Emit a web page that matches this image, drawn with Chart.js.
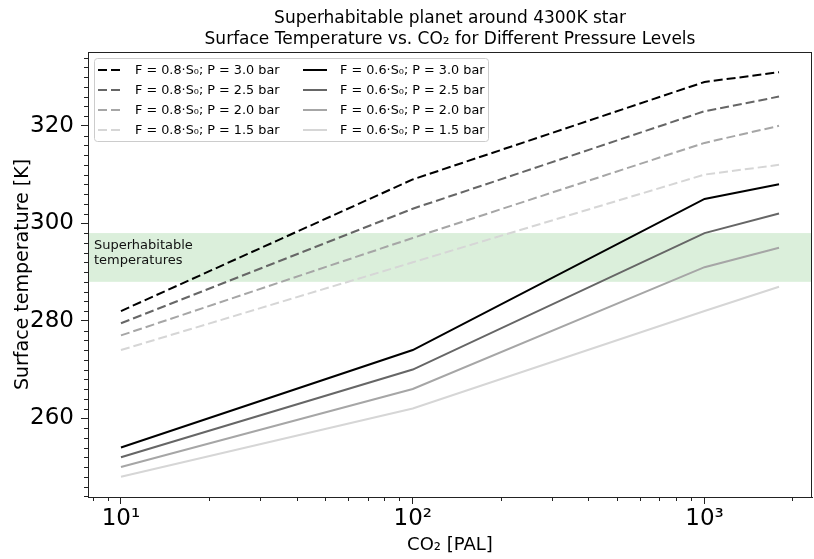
<!DOCTYPE html>
<html><head><meta charset="utf-8">
<script src="https://cdn.jsdelivr.net/npm/chart.js@4/dist/chart.umd.min.js"></script>
<style>html,body{margin:0;padding:0;background:#fff}#wrap{width:814px;height:559px}</style>
</head><body><div id="wrap"><canvas id="c" width="814" height="559"></canvas></div>
<script>
// ---- data ----
const co2 = [10, 100, 1000, 1800];
const f08_p30 = [282, 309, 329, 331];
const f08_p25 = [279.5, 303, 323, 326];
const f08_p20 = [277, 297, 316.5, 320];
const f08_p15 = [274, 292, 310, 312];
const f06_p30 = [254, 274, 305, 308];
const f06_p25 = [252, 270, 298, 302];
const f06_p20 = [250, 266, 291, 295];
const f06_p15 = [248, 262, 282, 287];
const seriesLabels = [
  'F = 0.8·S₀; P = 3.0 bar','F = 0.8·S₀; P = 2.5 bar','F = 0.8·S₀; P = 2.0 bar','F = 0.8·S₀; P = 1.5 bar',
  'F = 0.6·S₀; P = 3.0 bar','F = 0.6·S₀; P = 2.5 bar','F = 0.6·S₀; P = 2.0 bar','F = 0.6·S₀; P = 1.5 bar'
];
const xTickValues = [10, 100, 1000];
const xTickLabels = ['10¹', '10²', '10³'];
const yTickValues = [260, 280, 300, 320];
const bandRange = [288, 298];
const bandLabel = ['Superhabitable', 'temperatures'];
const titleLines = ['Superhabitable planet around 4300K star', 'Surface Temperature vs. CO₂ for Different Pressure Levels'];

// ---- styles ----
const greys = ['#000000', '#666666', '#a6a6a6', '#d6d6d6'];
const FONT = 'DejaVu Sans';
const allSeries = [f08_p30, f08_p25, f08_p20, f08_p15, f06_p30, f06_p25, f06_p20, f06_p15];
const datasets = allSeries.map((s, i) => ({
  label: seriesLabels[i],
  data: co2.map((x, k) => ({x: x, y: s[k]})),
  borderColor: greys[i % 4],
  backgroundColor: greys[i % 4],
  borderWidth: 2,
  borderDash: i < 4 ? [9, 4] : [],
  pointRadius: 0,
  tension: 0,
  fill: false
}));

const bandPlugin = {
  id: 'band',
  beforeDatasetsDraw(chart) {
    const {ctx, chartArea: a, scales: {y}} = chart;
    const y1 = y.getPixelForValue(bandRange[1]), y0 = y.getPixelForValue(bandRange[0]);
    ctx.save();
    ctx.fillStyle = 'rgba(44,160,44,0.17)';
    ctx.fillRect(a.left, y1, a.right - a.left, y0 - y1);
    ctx.fillStyle = '#111';
    ctx.font = '13px "' + FONT + '"';
    ctx.textBaseline = 'alphabetic';
    ctx.textAlign = 'left';
    ctx.fillText(bandLabel[0], a.left + 6, y1 + 16);
    ctx.fillText(bandLabel[1], a.left + 6, y1 + 30.5);
    ctx.restore();
  }
};

const framePlugin = {
  id: 'frame',
  afterDraw(chart) {
    const {ctx, chartArea: a, scales: {x, y}} = chart;
    ctx.save();
    ctx.strokeStyle = '#222';
    ctx.lineWidth = 1;
    // minor ticks y
    ctx.beginPath();
    for (let v = Math.ceil(y.min / 2) * 2; v <= y.max; v += 2) {
      if (v % 20 === 0) continue;
      const py = Math.round(y.getPixelForValue(v)) + 0.5;
      ctx.moveTo(a.left, py); ctx.lineTo(a.left - 4, py);
    }
    // minor ticks x
    for (let d = 1; d <= 1000; d *= 10) {
      for (let m = 2; m <= 9; m++) {
        const v = m * d;
        if (v < x.min || v > x.max) continue;
        const px = Math.round(x.getPixelForValue(v)) + 0.5;
        ctx.moveTo(px, a.bottom); ctx.lineTo(px, a.bottom + 4);
      }
    }
    ctx.stroke();
    // frame
    ctx.strokeRect(Math.round(a.left) + 0.5, Math.round(a.top) + 0.5, Math.round(a.right - a.left) - 1, Math.round(a.bottom - a.top));
    // title
    ctx.fillStyle = '#000';
    ctx.font = '17px "' + FONT + '"';
    ctx.textAlign = 'center';
    ctx.textBaseline = 'middle';
    const cx = (a.left + a.right) / 2;
    ctx.fillText(titleLines[0], cx, 19);
    ctx.fillText(titleLines[1], cx, 40);
    // legend
    const lx = a.left + 6, ly = a.top + 6, lw = 394, lh = 83;
    ctx.fillStyle = 'rgba(255,255,255,0.8)';
    ctx.strokeStyle = '#cccccc';
    ctx.beginPath();
    if (ctx.roundRect) ctx.roundRect(lx + 0.5, ly + 0.5, lw, lh, 3); else ctx.rect(lx + 0.5, ly + 0.5, lw, lh);
    ctx.fill(); ctx.stroke();
    ctx.font = '12.8px "' + FONT + '"';
    ctx.textAlign = 'left';
    ctx.textBaseline = 'middle';
    chart.data.datasets.forEach((ds, i) => {
      const col = Math.floor(i / 4), row = i % 4;
      const hx = lx + 4 + col * 205, hy = ly + 12 + row * 20;
      ctx.strokeStyle = ds.borderColor;
      ctx.lineWidth = ds.borderWidth;
      ctx.setLineDash(ds.borderDash);
      ctx.beginPath(); ctx.moveTo(hx, hy); ctx.lineTo(hx + 24, hy); ctx.stroke();
      ctx.setLineDash([]);
      ctx.fillStyle = '#000';
      ctx.fillText(ds.label, hx + 37, hy + 0.5);
    });
    ctx.restore();
  }
};

new Chart(document.getElementById('c'), {
  type: 'line',
  data: {datasets: datasets},
  options: {
    responsive: false,
    devicePixelRatio: 1,
    animation: false,
    layout: {padding: {top: 52, right: 2, left: 0, bottom: 0}},
    plugins: {legend: {display: false}, tooltip: {enabled: false}, title: {display: false}},
    scales: {
      x: {
        type: 'logarithmic',
        min: 7.71, max: 2335,
        afterBuildTicks: s => { s.ticks = xTickValues.map(v => ({value: v, major: true})); },
        afterFit: s => { s.height = 62; },
        ticks: {
          callback: v => { const i = xTickValues.indexOf(v); return i >= 0 ? xTickLabels[i] : ''; },
          font: {family: FONT, size: 23}, color: '#000', padding: 1, maxRotation: 0, autoSkip: false
        },
        grid: {drawOnChartArea: false, drawTicks: true, tickLength: 7, tickColor: '#222', tickWidth: 1},
        border: {display: true, color: '#222', width: 1},
        title: {display: true, text: 'CO₂ [PAL]', font: {family: FONT, size: 18}, color: '#000', padding: {top: 0, bottom: 3}}
      },
      y: {
        type: 'linear',
        min: 243.85, max: 335.15,
        afterBuildTicks: s => { s.ticks = yTickValues.map(v => ({value: v})); },
        afterFit: s => { s.width = 88; },
        ticks: {font: {family: FONT, size: 23}, color: '#000', padding: 7, autoSkip: false},
        grid: {drawOnChartArea: false, drawTicks: true, tickLength: 7, tickColor: '#222', tickWidth: 1},
        border: {display: true, color: '#222', width: 1},
        title: {display: true, text: 'Surface temperature [K]', font: {family: FONT, size: 19}, color: '#000', padding: {top: 12, bottom: 0}}
      }
    }
  },
  plugins: [bandPlugin, framePlugin]
});
</script>
</body></html>
